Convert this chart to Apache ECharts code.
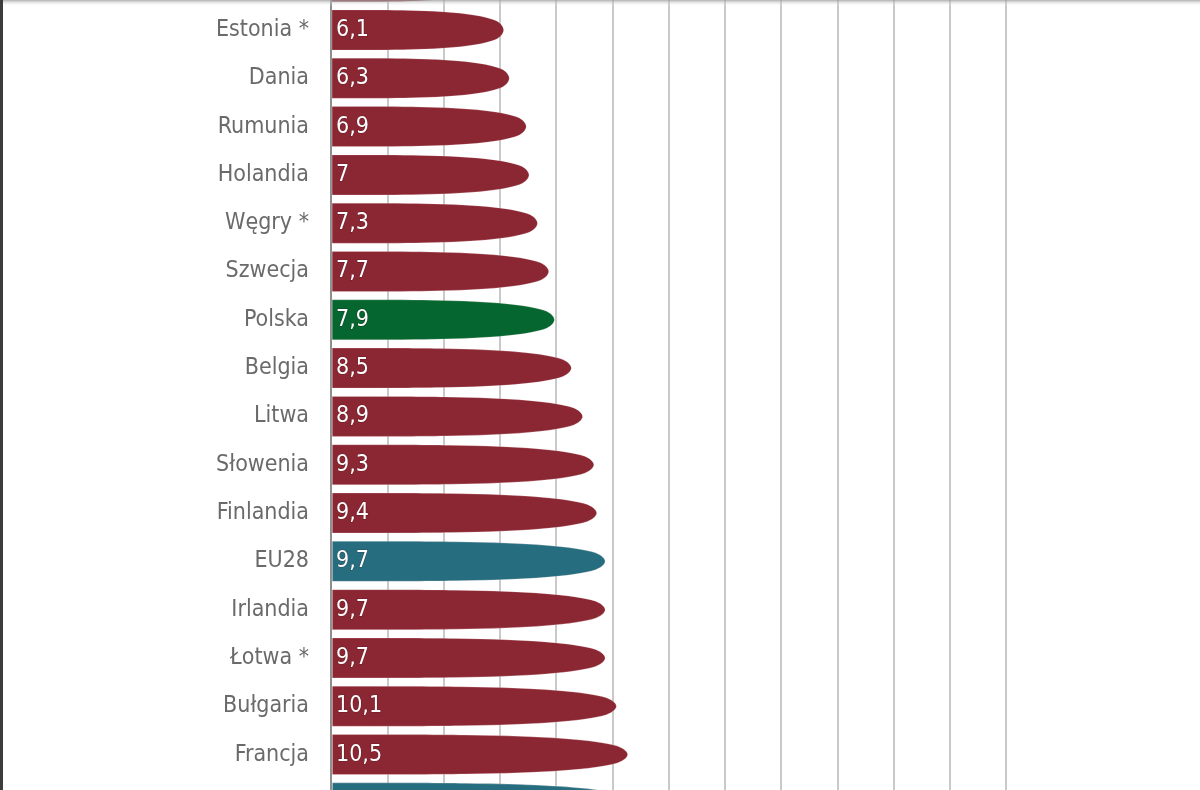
<!DOCTYPE html>
<html lang="pl">
<head>
    <meta charset="UTF-8">
    <title>Wykres</title>
    <style>
        *{
            margin: 0;
            padding: 0;
        }
        html, body{
            background: #fff;
        }
        .main{
            width: 1200px;
            height: 790px;
        }
    </style>
    <script src="https://cdn.jsdelivr.net/npm/echarts@6/dist/echarts.min.js"></script>
</head>
<body>
<div class="main"></div>
<script>
    // first and last rows are only partly visible at the picture's edges
    let categories = ['Czechy', 'Estonia *', 'Dania', 'Rumunia', 'Holandia', 'Węgry *', 'Szwecja', 'Polska',
        'Belgia', 'Litwa', 'Słowenia', 'Finlandia', 'EU28', 'Irlandia', 'Łotwa *', 'Bułgaria', 'Francja', 'EA19'];
    let values = [5.8, 6.1, 6.3, 6.9, 7, 7.3, 7.7, 7.9, 8.5, 8.9, 9.3, 9.4, 9.7, 9.7, 9.7, 10.1, 10.5, 10.6];
    let greenRows = ['Polska'];
    let tealRows = ['EU28', 'EA19'];

    const RED = '#8a2733';
    const GREEN = '#05662f';
    const TEAL = '#266e7f';
    const FONT = "'Liberation Sans Narrow', 'DejaVu Sans Condensed', sans-serif";

    // bullet shaped bar: flat start, long taper, rounded point
    let bullet = 'path://M0 0 C20 0 35 0 45 0.5 C72 1.5 89 5 96.5 11.5 C99.2 14.5 100 18 100 20 ' +
        'C100 22 99.2 25.5 96.5 28.5 C89 35 72 38.5 45 39.5 C35 40 20 40 0 40 Z';

    let main = document.querySelector('.main');
    let chart = echarts.init(main);

    let data = values.map((v, i) => {
        let name = categories[i];
        let color = RED;
        if (greenRows.includes(name)) color = GREEN;
        if (tealRows.includes(name)) color = TEAL;
        return {
            value: v,
            itemStyle: {color}
        };
    });

    let option = {
        animation: false,
        backgroundColor: '#fff',
        grid: {
            left: 331,
            right: 194,
            top: -42.5,
            bottom: -37,
            containLabel: false,
            outerBoundsMode: 'none'
        },
        xAxis: {
            type: 'value',
            min: 0,
            max: 24,
            interval: 2,
            axisLabel: {show: false},
            axisTick: {show: false},
            axisLine: {show: false},
            splitLine: {
                show: true,
                lineStyle: {color: '#c9c9c9', width: 2}
            }
        },
        yAxis: {
            type: 'category',
            inverse: true,
            data: categories,
            axisTick: {show: false},
            axisLine: {
                show: true,
                lineStyle: {color: '#8e8e8e', width: 2}
            },
            axisLabel: {
                color: '#6a6a6a',
                fontSize: 23,
                fontFamily: FONT,
                margin: 22
            }
        },
        series: [{
            type: 'pictorialBar',
            symbol: bullet,
            symbolSize: ['100%', 40],
            symbolRepeat: false,
            symbolPosition: 'start',
            data,
            itemStyle: {
                borderColor: 'rgba(255,235,235,0.7)',
                borderWidth: 1
            },
            label: {
                show: true,
                position: 'insideLeft',
                distance: 5,
                color: '#fff',
                fontSize: 23,
                fontFamily: FONT,
                textBorderColor: 'rgba(50,10,20,0.35)',
                textBorderWidth: 1,
                formatter: p => String(p.value).replace('.', ',')
            },
            z: 3
        }],
        graphic: [{
            type: 'rect',
            left: 0,
            top: 0,
            shape: {width: 1200, height: 6},
            style: {
                fill: new echarts.graphic.LinearGradient(0, 0, 0, 1, [
                    {offset: 0, color: 'rgba(150,150,150,0.75)'},
                    {offset: 1, color: 'rgba(255,255,255,0)'}
                ])
            },
            z: 100
        }, {
            type: 'rect',
            left: 0,
            top: 0,
            shape: {width: 3, height: 790},
            style: {fill: '#3c3c3c'},
            z: 101
        }]
    };
    chart.setOption(option);
</script>
</body>
</html>
